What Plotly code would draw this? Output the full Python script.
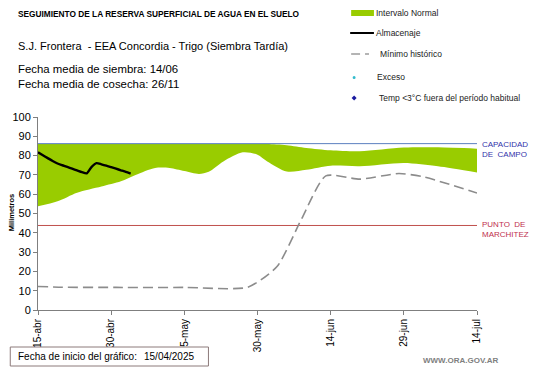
import plotly.graph_objects as go

# ---------------- data ----------------
band_dates = ["2025-04-15", "2025-04-19", "2025-04-23", "2025-04-28", "2025-05-02",
              "2025-05-05", "2025-05-09", "2025-05-12", "2025-05-15", "2025-05-18",
              "2025-05-20", "2025-05-23", "2025-05-27", "2025-05-30", "2025-06-01",
              "2025-06-05", "2025-06-09", "2025-06-14", "2025-06-20", "2025-06-29",
              "2025-07-06", "2025-07-14"]
normal_low = [53.7, 56.3, 60.8, 64.0, 66.7, 70.0, 73.6, 73.6, 72.0, 70.5, 71.6, 77.0,
              81.7, 80.5, 77.0, 71.8, 72.7, 74.8, 74.5, 76.2, 74.5, 71.3]
normal_high = [86.0, 86.0, 86.0, 86.0, 86.0, 86.0, 86.0, 86.0, 86.0, 86.0, 86.0, 86.0,
               86.0, 86.0, 86.0, 85.4, 84.0, 82.8, 82.3, 84.2, 84.3, 83.6]

alm_dates = ["2025-04-%02d" % d for d in range(15, 31)] + ["2025-05-%02d" % d for d in range(1, 5)]
almacenaje = [81.7, 80.2, 78.7, 77.2, 75.9, 75.0, 74.1, 73.2, 72.3, 71.4, 70.8, 74.2,
              76.1, 75.5, 74.8, 74.0, 73.2, 72.4, 71.6, 70.7]

min_dates = ["2025-04-15", "2025-04-20", "2025-05-01", "2025-05-15", "2025-05-28",
             "2025-06-03", "2025-06-08", "2025-06-13", "2025-06-20", "2025-06-28",
             "2025-07-03", "2025-07-14"]
minimo_hist = [12.2, 11.8, 11.7, 11.7, 11.8, 22.5, 47.0, 69.5, 67.8, 70.7, 69.0, 60.6]

capacidad_campo = 86.2
punto_marchitez = 43.8
x_start, x_end = "2025-04-15", "2025-07-14"

tick_dates = ["2025-04-15", "2025-04-30", "2025-05-15", "2025-05-30", "2025-06-14",
              "2025-06-29", "2025-07-14"]
tick_labels = ["15-abr", "30-abr", "15-may", "30-may", "14-jun", "29-jun", "14-jul"]

# ---------------- layout geometry ----------------
W, H = 541, 368
L, R, T, B = 34, 64, 117, 58
PW, PH = W - L - R, H - T - B


def px(x):
    return (x - L) / PW


def py(y):
    return (H - B - y) / PH


FONT = "Liberation Sans, Arial, sans-serif"
GREEN = "#99cc00"

fig = go.Figure()

fig.add_trace(go.Scatter(x=band_dates, y=normal_low, mode="lines",
                         line=dict(width=0, shape="spline", smoothing=0.8),
                         showlegend=False, hoverinfo="skip"))
fig.add_trace(go.Scatter(x=band_dates, y=normal_high, mode="lines", fill="tonexty",
                         fillcolor=GREEN, line=dict(width=0, shape="spline", smoothing=0.8),
                         name="Intervalo Normal", showlegend=False))

fig.add_trace(go.Scatter(x=[x_start, x_end], y=[capacidad_campo] * 2, mode="lines",
                         line=dict(color="#5b7fbf", width=1), showlegend=False))
fig.add_trace(go.Scatter(x=[x_start, x_end], y=[punto_marchitez] * 2, mode="lines",
                         line=dict(color="#c0504d", width=1), showlegend=False))

fig.add_trace(go.Scatter(x=min_dates, y=minimo_hist, mode="lines",
                         line=dict(color="#8c8c8c", width=1.6, dash="10px,5px",
                                   shape="spline", smoothing=0.6),
                         name="Mínimo histórico", showlegend=False))

fig.add_trace(go.Scatter(x=alm_dates, y=almacenaje, mode="lines",
                         line=dict(color="#000000", width=2.4, shape="spline", smoothing=0.6),
                         name="Almacenaje", showlegend=False))

shapes = []
annotations = []

# Legend (manual)
shapes.append(dict(type="rect", xref="paper", yref="paper", x0=px(350), x1=px(373),
                   y0=py(16), y1=py(10), fillcolor=GREEN, line=dict(width=0)))
shapes.append(dict(type="line", xref="paper", yref="paper", x0=px(349), x1=px(373),
                   y0=py(33), y1=py(33), line=dict(color="#000", width=2)))
shapes.append(dict(type="line", xref="paper", yref="paper", x0=px(350), x1=px(359),
                   y0=py(54), y1=py(54), line=dict(color="#8c8c8c", width=1.3)))
shapes.append(dict(type="line", xref="paper", yref="paper", x0=px(364), x1=px(368),
                   y0=py(54), y1=py(54), line=dict(color="#8c8c8c", width=1.3)))
shapes.append(dict(type="circle", xref="paper", yref="paper", x0=px(351.5), x1=px(354.5),
                   y0=py(79), y1=py(76), fillcolor="#33bbcc", line=dict(width=0)))
shapes.append(dict(type="path", xref="paper", yref="paper",
                   path="M %f %f L %f %f L %f %f L %f %f Z" % (px(353), py(95.5), px(355.5), py(98),
                                                           px(353), py(100.5), px(350.5), py(98)),
                   fillcolor="#1a1aa0", line=dict(width=0)))

leg_items = [("Intervalo Normal", 373, 13), ("Almacenaje", 373, 33),
             ("Mínimo histórico", 377, 54), ("Exceso", 374, 77),
             ("Temp <3°C fuera del período habitual", 376, 98)]
for txt, x, y in leg_items:
    annotations.append(dict(text=txt, xref="paper", yref="paper", x=px(x), y=py(y),
                            xanchor="left", yanchor="middle", showarrow=False,
                            font=dict(family=FONT, size=8.5, color="#222")))

# Titles
annotations.append(dict(text="<b>SEGUIMIENTO DE LA RESERVA SUPERFICIAL DE AGUA EN EL SUELO</b>",
                        xref="paper", yref="paper", x=px(12), y=py(14), xanchor="left",
                        yanchor="middle", showarrow=False,
                        font=dict(family=FONT, size=8.3, color="#000")))
annotations.append(dict(text="S.J. Frontera  - EEA Concordia - Trigo (Siembra Tardía)",
                        xref="paper", yref="paper", x=px(12), y=py(46), xanchor="left",
                        yanchor="middle", showarrow=False,
                        font=dict(family=FONT, size=11, color="#000")))
annotations.append(dict(text="Fecha media de siembra: 14/06<br>Fecha media de cosecha: 26/11",
                        xref="paper", yref="paper", x=px(12), y=py(77), xanchor="left",
                        yanchor="middle", align="left", showarrow=False,
                        font=dict(family=FONT, size=11.4, color="#000")))

# Right side labels
annotations.append(dict(text="CAPACIDAD<br>DE  CAMPO", xref="paper", yref="y",
                        x=px(480), y=capacidad_campo, xanchor="left", yanchor="top",
                        yshift=6, align="left", showarrow=False,
                        font=dict(family=FONT, size=8, color="#3333aa")))
annotations.append(dict(text="PUNTO  DE<br>MARCHITEZ", xref="paper", yref="y",
                        x=px(480), y=punto_marchitez, xanchor="left", yanchor="top",
                        yshift=7, align="left", showarrow=False,
                        font=dict(family=FONT, size=8, color="#c0304d")))

# Y-axis title
annotations.append(dict(text="<b>Milimetros</b>", xref="paper", yref="paper", x=px(7),
                        y=py(212), textangle=-90, showarrow=False, xanchor="center",
                        yanchor="middle", font=dict(family=FONT, size=7.5, color="#000")))

# Bottom info box
shapes.append(dict(type="rect", xref="paper", yref="paper", x0=px(6), x1=px(206),
                   y0=py(366), y1=py(347), line=dict(color="#8c7a7a", width=1),
                   fillcolor="white"))
annotations.append(dict(text="Fecha de inicio del gráfico:", xref="paper", yref="paper",
                        x=px(12), y=py(356.5), xanchor="left", yanchor="middle",
                        showarrow=False, font=dict(family=FONT, size=10, color="#000")))
annotations.append(dict(text="15/04/2025", xref="paper", yref="paper",
                        x=px(139), y=py(356.5), xanchor="left", yanchor="middle",
                        showarrow=False, font=dict(family=FONT, size=10, color="#000")))
annotations.append(dict(text="<b>WWW.ORA.GOV.AR</b>", xref="paper", yref="paper",
                        x=px(500), y=py(360), xanchor="right", yanchor="middle",
                        showarrow=False, font=dict(family=FONT, size=8, color="#7f7f7f")))

fig.update_layout(
    width=W, height=H,
    margin=dict(l=L, r=R, t=T, b=B, pad=0),
    paper_bgcolor="white", plot_bgcolor="white",
    showlegend=False,
    shapes=shapes, annotations=annotations,
    font=dict(family=FONT, size=11, color="#000"),
)
fig.update_xaxes(type="date", range=[x_start, x_end], tickvals=tick_dates, ticktext=tick_labels,
                 tickangle=-90, showgrid=False, zeroline=False, showline=True,
                 linecolor="#7f7f7f", linewidth=1, ticks="outside", ticklen=4,
                 tickcolor="#7f7f7f", tickfont=dict(family=FONT, size=10, color="#000"))
fig.update_yaxes(range=[0, 100], dtick=10, showgrid=False, zeroline=False, showline=True,
                 linecolor="#7f7f7f", linewidth=1, ticks="outside", ticklen=4,
                 tickcolor="#7f7f7f", tickfont=dict(family=FONT, size=11, color="#000"))

fig.write_html("out.html", config={"displayModeBar": False},
               post_script="document.body.style.margin='0';document.body.style.overflow='hidden';")
